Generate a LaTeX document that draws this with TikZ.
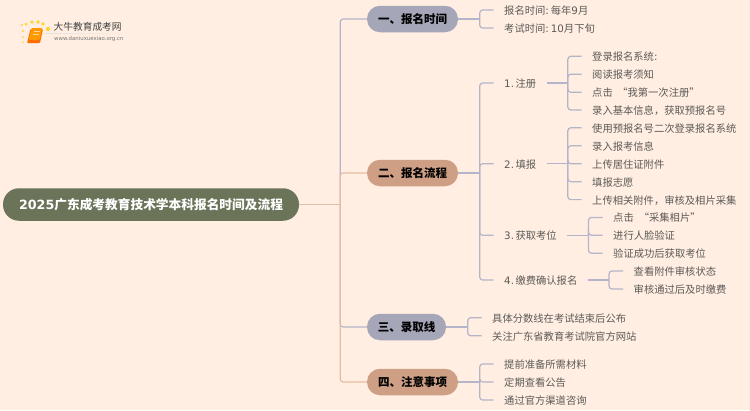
\documentclass[tikz,border=0pt]{standalone}
\usepackage{fontspec}
\setmainfont{Noto Sans CJK SC}
\newfontfamily\latfont{DejaVu Sans}
\newcommand{\lnum}[1]{{\latfont #1}}
\definecolor{bgpage}{HTML}{FFEEE1}
\definecolor{rootgreen}{HTML}{6B7359}
\definecolor{nodeblue}{HTML}{A6A6B9}
\definecolor{nodeorange}{HTML}{CF9F85}
\definecolor{lineblue}{HTML}{B4B5CA}
\definecolor{lineorange}{HTML}{E5BDA5}
\definecolor{leaftext}{HTML}{5C5A58}
\tikzstyle{rootn}=[rounded corners=16pt,fill=rootgreen,text=white,font=\fontsize{12.7}{14}\selectfont\bfseries,minimum width=296pt,minimum height=32.5pt,inner sep=0pt]
\tikzstyle{branchb}=[rounded corners=13pt,fill=nodeblue,text=black,font=\fontsize{11.5}{14}\selectfont\bfseries,minimum height=26.5pt,inner sep=0pt]
\tikzstyle{brancho}=[branchb,fill=nodeorange]
\tikzstyle{leaf}=[anchor=west,text=leaftext,font=\fontsize{10.3}{12}\selectfont,inner xsep=10.5pt,inner ysep=0pt,text height=10pt,text depth=1pt]
\tikzstyle{linkb}=[draw=lineblue,line width=1.2pt,rounded corners=3pt]
\tikzstyle{linko}=[draw=lineorange,line width=1.2pt,rounded corners=3pt]
\begin{document}
\begin{tikzpicture}[x=1pt,y=-1pt]
    \useasboundingbox (0,0) rectangle (750,410);
    \fill[bgpage] (0,0) rectangle (750,410);

    % logo
    \foreach \x/\y/\r in {22/25/1.2,26/24/1.5,32/22/1.8,38/22/1.8,43/24/1.8,48/29/2.1,23/31/1.2,23/37/1,23/42/.8}
    \fill[yellow!70!orange,opacity=.8] (\x,\y) circle (\r);
    \fill[orange!85!red,rounded corners=1pt] (30.5,29) -- (43,29) -- (40,43) -- (27,43) -- cycle;
    \fill[orange!80!yellow,rounded corners=1pt] (31.5,28) -- (42.5,28) -- (39.5,40) -- (28.5,40) -- cycle;
    \draw[white,opacity=.6,line width=.7pt] (33.5,31) -- (39.5,31) (33,34) -- (39,34);
    \shade[left color=black!12,right color=bgpage] (45,33.2) rectangle (132,33.8);
    \node[anchor=west,inner sep=0pt,text=black!75,font=\fontsize{9.7}{11}\selectfont] (logo) at (53.5,27) {大牛教育成考网};
    \node[anchor=west,inner sep=0pt,text=black!55,font=\latfont\fontsize{5.4}{6}\selectfont] (url) at (54,38.7) {www.daniuxuexiao.org.cn};

    % root and branches
    \node[rootn] (r) at (151,204.5) {\lnum{2025}广东成考教育技术学本科报名时间及流程};
    \node[branchb,minimum width=91pt] (b1) at (412.5,19) {一、报名时间};
    \node[brancho,minimum width=91pt] (b2) at (412.5,173) {二、报名流程};
    \node[branchb,minimum width=79pt] (b3) at (406.5,327) {三、录取线};
    \node[brancho,minimum width=91pt] (b4) at (412.5,382) {四、注意事项};

    % first level
    \node[leaf] (a1) at (493.5,10) {报名时间\lnum{:}\hspace{2pt}每年\lnum{9}月};
    \node[leaf] (a2) at (493.5,28) {考试时间\lnum{:}\hspace{2pt}\lnum{10}月下旬};

    \node[leaf] (s1) at (493.5,83) {\lnum{1.}\hspace{1.5pt}注册};
    \node[leaf] (s2) at (493.5,163.7) {\lnum{2.}\hspace{1.5pt}填报};
    \node[leaf] (s3) at (493.5,235.3) {\lnum{3.}\hspace{1.5pt}获取考位};
    \node[leaf] (s4) at (493.5,280) {\lnum{4.}\hspace{1.5pt}缴费确认报名};

    \node[leaf] (c1) at (481.5,317.7) {具体分数线在考试结束后公布};
    \node[leaf] (c2) at (481.5,335.7) {关注广东省教育考试院官方网站};

    \node[leaf] (d1) at (493.5,364) {提前准备所需材料};
    \node[leaf] (d2) at (493.5,382) {定期查看公告};
    \node[leaf] (d3) at (493.5,400) {通过官方渠道咨询};

    % second level
    \node[leaf] (s1a) at (581.5,56.3) {登录报名系统\lnum{:}};
    \node[leaf] (s1b) at (581.5,74.2) {阅读报考须知};
    \node[leaf] (s1c) at (581.5,92.2) {点击\hspace{4.5pt}“我第一次注册”};
    \node[leaf] (s1d) at (581.5,110) {录入基本信息，获取预报名号};

    \node[leaf] (s2a) at (581.5,127.8) {使用预报名号二次登录报名系统};
    \node[leaf] (s2b) at (581.5,145.8) {录入报考信息};
    \node[leaf] (s2c) at (581.5,163.7) {上传居住证附件};
    \node[leaf] (s2d) at (581.5,181.7) {填报志愿};
    \node[leaf] (s2e) at (581.5,199.6) {上传相关附件，审核及相片采集};

    \node[leaf] (s3a) at (602.5,217.4) {点击\hspace{5pt}“采集相片”};
    \node[leaf] (s3b) at (602.5,235.3) {进行人脸验证};
    \node[leaf] (s3c) at (602.5,253.2) {验证成功后获取考位};

    \node[leaf] (s4a) at (623,271) {查看附件审核状态};
    \node[leaf] (s4b) at (623,289) {审核通过后及时缴费};

    % connectors
    \foreach \to in {b1,b3}
    \draw[linkb] ([xshift=41pt]r.east) |- (\to.west);
    \foreach \to in {b2,b4}
    \draw[linko] ([xshift=41pt]r.east) |- (\to.west);
    \draw[linko] (r.east) -- ++(41,0);

    \foreach \from/\len in {b1/21.5,b2/21.5,b3/21.5,b4/21.5,s1/21,s2/21,s3/21,s4/21}
    \draw[linkb] (\from.east) -- ++(\len,0);

    \foreach \from/\to in {b1/a1,b1/a2,b2/s1,b2/s2,b2/s3,b2/s4,b3/c1,b3/c2,b4/d1,b4/d2,b4/d3}
    \draw[linkb] ([xshift=21.5pt]\from.east) |- (\to.west);

    \foreach \from/\to in {s1/s1a,s1/s1b,s1/s1c,s1/s1d,s2/s2a,s2/s2b,s2/s2c,s2/s2d,s2/s2e,s3/s3a,s3/s3b,s3/s3c,s4/s4a,s4/s4b}
    \draw[linkb] ([xshift=21pt]\from.east) |- (\to.west);
\end{tikzpicture}
\end{document}
